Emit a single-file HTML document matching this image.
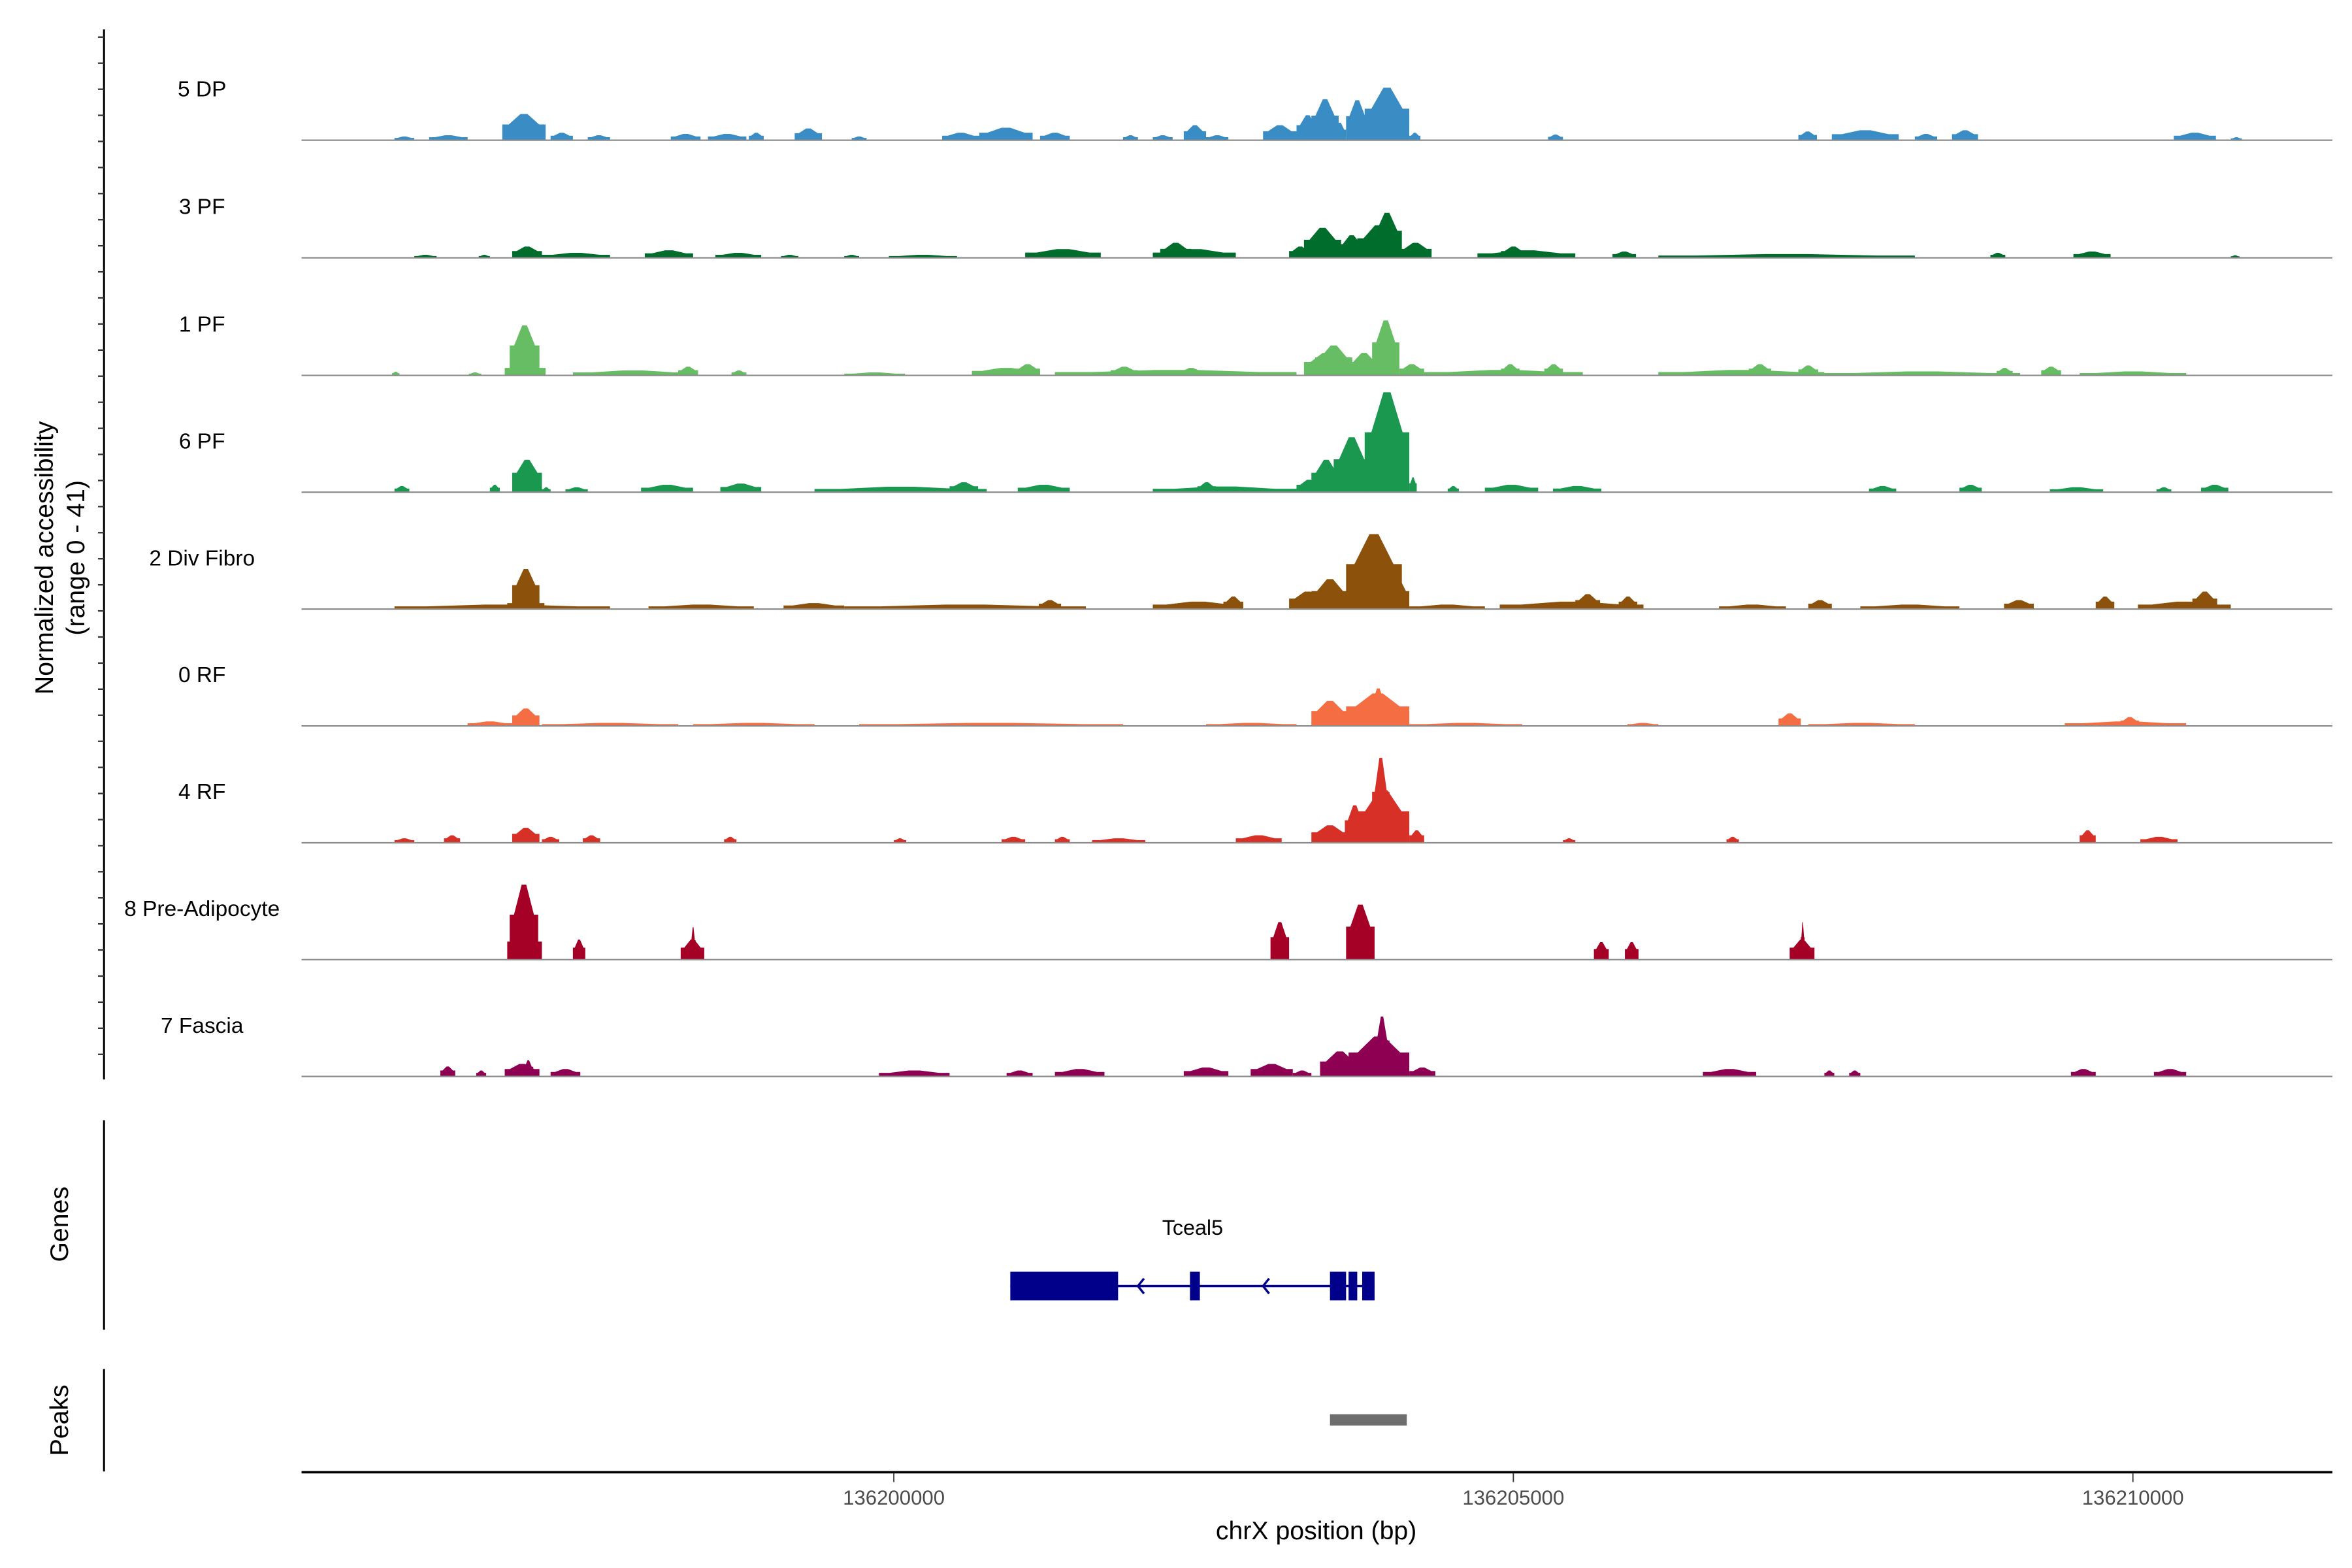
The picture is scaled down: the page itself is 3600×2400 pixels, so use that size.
<!DOCTYPE html>
<html><head><meta charset="utf-8"><style>
html,body{margin:0;padding:0;background:#fff}
svg{display:block}
text{font-family:"Liberation Sans",sans-serif}
</style></head><body>
<svg id="chart" width="3600" height="2400" viewBox="0 0 1560 1040" xmlns="http://www.w3.org/2000/svg">
<g id="tracks"></g>
<g id="axes">
<line x1="69" y1="19.5" x2="69" y2="716" stroke="#000" stroke-width="1.3"/>
<g id="yticks"></g>
<text transform="translate(35,370) rotate(-90)" text-anchor="middle" font-size="17">Normalized accessibility</text>
<text transform="translate(56,370) rotate(-90)" text-anchor="middle" font-size="17">(range 0 - 41)</text>
<line x1="69" y1="743" x2="69" y2="882" stroke="#000" stroke-width="1.3"/>
<text transform="translate(45,812) rotate(-90)" text-anchor="middle" font-size="17">Genes</text>
<line x1="69" y1="908" x2="69" y2="976" stroke="#000" stroke-width="1.3"/>
<text transform="translate(45,942) rotate(-90)" text-anchor="middle" font-size="17">Peaks</text>
<line x1="200" y1="976.5" x2="1547" y2="976.5" stroke="#000" stroke-width="1.6"/>
<g id="xticks"></g>
<text x="873" y="1021" text-anchor="middle" font-size="17">chrX position (bp)</text>
</g>
<g id="genes">
<text x="791" y="819" text-anchor="middle" font-size="14">Tceal5</text>
</g>
<g id="peaks"></g>
</svg>
<script>
// genomic positions in kb relative to 136,200,000; values are normalized accessibility
const domainBp = [136195220, 136211610];
const xTickValues = [136200000, 136205000, 136210000];
const trackNames = ["5 DP","3 PF","1 PF","6 PF","2 Div Fibro","0 RF","4 RF","8 Pre-Adipocyte","7 Fascia"];
const trackColors = ["#3a8cc4","#006d2c","#66bd63","#1a9850","#8c510a","#f46d43","#d73027","#a50026","#8e0152"];
const peaksDP = [[-4.03,-3.87,1.5],[-3.75,-3.44,2],[-3.16,-2.81,10.5],[-2.77,-2.59,3],[-2.47,-2.29,2],[-1.80,-1.56,2.5],[-1.50,-1.19,2.5],[-1.17,-1.05,3],[-0.80,-0.58,4.7],[-0.34,-0.22,1.5],[0.39,0.69,3],[0.69,1.12,5],[1.18,1.42,3],[1.85,1.97,2],[2.09,2.25,2],[2.34,2.52,6],[2.52,2.70,2],[2.98,3.25,6],[3.25,3.43,10],[3.37,3.59,16.4],[3.55,3.65,7],[3.65,3.83,16],[3.80,4.16,21],[4.16,4.25,3],[5.28,5.40,2.3],[7.30,7.45,3.5],[7.57,8.11,4],[8.24,8.42,2.5],[8.54,8.75,4],[10.33,10.67,3],[10.79,10.88,1.2]];
const peaksPF3 = [[-3.87,-3.69,1.2],[-3.35,-3.26,1.2],[-3.08,-2.84,4.5],[-2.84,-2.29,2],[-2.01,-1.62,3],[-1.44,-1.07,2],[-0.91,-0.77,1.2],[-0.40,-0.28,1.2],[-0.04,0.51,1.2],[1.06,1.67,3.5],[2.09,2.76,3.5],[2.15,2.40,6],[3.19,3.37,4.5],[3.31,3.61,12],[3.59,3.80,9],[3.74,4.08,13],[3.86,4.10,18],[4.08,4.34,6],[4.71,5.50,3],[4.90,5.10,4.5],[5.80,5.99,2.5],[6.17,8.24,1.5],[8.85,8.97,2],[9.52,9.82,2.5],[10.79,10.86,1]];
const peaksPF1 = [[-4.05,-3.99,1.5],[-3.43,-3.33,1.2],[-3.14,-2.81,5],[-3.10,-2.86,20],[-2.59,-1.62,2],[-1.74,-1.58,3.5],[-1.31,-1.19,2],[-0.40,0.09,1.2],[0.63,1.18,3],[0.98,1.18,4.5],[1.30,3.25,2.2],[1.75,1.97,3.5],[2.30,2.50,3],[3.31,3.67,9],[3.40,3.70,12],[3.67,3.92,9],[3.86,4.08,22],[4.08,4.28,4.5],[4.28,5.56,2.2],[4.90,5.05,4.5],[5.25,5.40,4.5],[6.17,7.51,2.2],[6.90,7.08,4.5],[7.30,7.46,4],[7.51,9.09,1.6],[8.90,9.03,3],[9.26,9.42,3.5],[9.57,10.43,1.6]];
const peaksPF6 = [[-4.03,-3.91,2.5],[-3.26,-3.18,3],[-3.08,-2.84,13],[-2.84,-2.77,2],[-2.65,-2.47,2],[-2.04,-1.62,3],[-1.40,-1.07,3.5],[-0.64,0.75,2.2],[0.45,0.68,4],[1.00,1.42,3],[2.09,3.25,2.3],[2.45,2.60,4],[3.25,3.45,5],[3.37,3.61,13],[3.55,3.84,22],[3.80,4.16,40],[4.16,4.22,6],[4.47,4.56,2.5],[4.77,5.20,3],[5.32,5.71,2.5],[7.87,8.09,2.5],[8.60,8.78,3],[9.33,9.76,2],[10.19,10.31,2],[10.55,10.77,3]];
const peaksDiv = [[-4.03,-2.29,1.8],[-3.08,-2.86,16],[-3.12,-2.82,4],[-1.98,-1.13,1.8],[-0.89,-0.40,2.4],[-0.40,1.55,1.8],[1.17,1.35,3.6],[2.09,2.82,3],[2.66,2.82,5],[3.19,3.49,7],[3.37,3.67,12],[3.65,4.10,30],[3.98,4.16,12],[4.16,4.77,1.8],[4.89,6.05,3],[5.50,5.70,6],[5.85,6.00,5],[6.66,7.20,1.8],[7.38,7.57,3.6],[7.80,8.60,1.8],[8.96,9.20,3.6],[9.70,9.85,5],[10.04,10.79,3],[10.48,10.68,7]];
const peaksRF0 = [[-3.44,-3.08,1.8],[-3.08,-2.86,7],[-2.84,-1.74,1.2],[-1.62,-0.64,1.2],[-0.28,1.85,1.2],[2.52,3.25,1.2],[3.37,3.67,10],[3.65,4.16,13],[3.84,3.98,15],[4.16,5.07,1.2],[5.92,6.17,1.2],[7.14,7.32,5],[7.38,8.24,1.2],[9.45,10.43,1.8],[9.90,10.05,3.6]];
const peaksRF4 = [[-4.03,-3.87,1.8],[-3.63,-3.50,3],[-3.08,-2.86,6],[-2.84,-2.70,2.4],[-2.51,-2.37,3],[-1.37,-1.27,2.4],[0.00,0.10,1.8],[0.87,1.06,2.4],[1.30,1.42,2.4],[1.60,2.03,1.8],[2.76,3.13,3],[3.37,3.67,7],[3.64,3.80,15],[3.74,4.16,21],[3.86,4.00,34],[4.16,4.28,5],[5.40,5.50,1.8],[6.72,6.82,2.4],[9.57,9.70,5],[10.06,10.36,2.4]];
const peaksPre = [[-3.12,-2.84,12],[-3.10,-2.87,30],[-2.59,-2.49,8],[-1.72,-1.53,8],[-1.64,-1.60,13],[3.04,3.19,15],[3.65,3.88,22],[5.65,5.77,7],[5.90,6.01,7],[7.23,7.43,8],[7.32,7.35,15]];
const peaksFas = [[-3.66,-3.54,4],[-3.37,-3.29,2.4],[-3.14,-2.86,5],[-2.99,-2.91,6.5],[-2.77,-2.53,3],[-0.12,0.45,2.4],[0.91,1.12,2.4],[1.30,1.70,3],[2.34,2.70,3.6],[2.88,3.22,5],[3.22,3.37,2.4],[3.44,3.76,10],[3.67,4.16,16],[3.88,4.00,24],[4.16,4.37,3.6],[6.53,6.96,3],[7.51,7.59,2.4],[7.71,7.80,2.4],[9.50,9.70,3],[10.17,10.43,3]];
const trackPeaks = [peaksDP, peaksPF3, peaksPF1, peaksPF6, peaksDiv, peaksRF0, peaksRF4, peaksPre, peaksFas];
const geneExonsKb = [[0.94,1.81],[2.39,2.47],[3.52,3.65],[3.67,3.74],[3.78,3.88]];
const geneSpanKb = [0.94,3.88];
const geneArrowsKb = [1.97,2.98];
const peakRegionsKb = [[3.52,4.14]];

const NS = "http://www.w3.org/2000/svg";
const X0 = 200, X1 = 1547;
const xScale = bp => X0 + (bp - domainBp[0]) / (domainBp[1] - domainBp[0]) * (X1 - X0);
const kbX = kb => xScale(136200000 + kb * 1000);
const baselines = [93,171,249,326.5,404,481.5,559,636.5,714];
const yScale = (v, base) => base - v / 41 * 68;
function mk(tag, attrs, parent) { const e = document.createElementNS(NS, tag); for (const k in attrs) e.setAttribute(k, attrs[k]); parent.appendChild(e); return e; }

const tracksG = document.getElementById('tracks');
trackNames.forEach((name, i) => {
  const g = mk('g', {}, tracksG);
  
  
  const base = baselines[i];
  const lbl = mk('text', {x: 134, y: base - 29, 'text-anchor': 'middle', 'font-size': 14.5}, g);
  lbl.textContent = name;
  
  
  trackPeaks[i].forEach(p => {
    const s = kbX(p[0]), e = kbX(p[1]), w = e - s, m = (s + e) / 2;
    const top = yScale(p[2], base), mid = yScale(p[2] * 0.6, base);
    const pts = [[s, base], [s, mid], [s + 0.15 * w, mid], [m - 0.08 * w, top], [m + 0.08 * w, top], [e - 0.15 * w, mid], [e, mid], [e, base]];
    const poly = mk('polygon', {points: pts.map(q => q[0].toFixed(2) + ',' + q[1].toFixed(2)).join(' '), fill: trackColors[i]}, g);
    
    
  });
  const bl = mk('line', {x1: X0, x2: X1, y1: base, y2: base, stroke: '#8c8c8c', 'stroke-width': 1}, g);
  
  
});

const yt = document.getElementById('yticks');
for (let y = 24.6; y < 716; y += 17.3) {
  const t = mk('line', {x1: 65, x2: 69, y1: y, y2: y, stroke: '#333', 'stroke-width': 1}, yt);
  
  
}

const xt = document.getElementById('xticks');
xTickValues.forEach(v => {
  const x = xScale(v);
  const t = mk('line', {x1: x, x2: x, y1: 977, y2: 983, stroke: '#333', 'stroke-width': 0.8}, xt);
  
  
  const l = mk('text', {x: x, y: 998, 'text-anchor': 'middle', 'font-size': 13.5, fill: '#4d4d4d'}, xt);
  l.textContent = String(v);
  
  
});

const gg = document.getElementById('genes');
const gy = 853;
const intr = mk('line', {x1: kbX(geneSpanKb[0]), x2: kbX(geneSpanKb[1]), y1: gy, y2: gy, stroke: '#00008b', 'stroke-width': 1.5}, gg);


geneExonsKb.forEach(ex => {
  const r = mk('rect', {x: kbX(ex[0]), y: gy - 9.5, width: kbX(ex[1]) - kbX(ex[0]), height: 19, fill: '#00008b'}, gg);
  
  
});
geneArrowsKb.forEach(a => {
  const x = kbX(a);
  const p = mk('polyline', {points: `${x+4},${gy-5} ${x},${gy} ${x+4},${gy+5}`, fill: 'none', stroke: '#00008b', 'stroke-width': 1.5}, gg);
  
  
});

const pg = document.getElementById('peaks');
peakRegionsKb.forEach(pk => {
  const r = mk('rect', {x: kbX(pk[0]), y: 938, width: kbX(pk[1]) - kbX(pk[0]), height: 7.5, fill: '#6e6e6e'}, pg);
  
  
});
</script>
</body></html>
